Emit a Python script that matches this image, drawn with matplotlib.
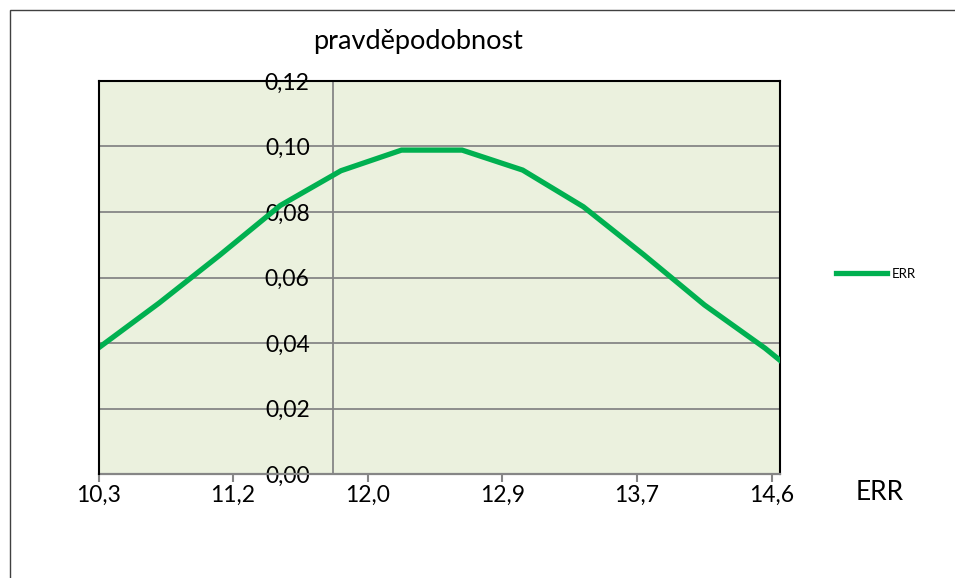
import matplotlib
matplotlib.use("Agg")
import matplotlib.pyplot as plt
from matplotlib.patches import Rectangle
from matplotlib.lines import Line2D

plt.rcParams['font.family'] = ['Lato', 'DejaVu Sans']

# ERR hodnoty a pravdepodobnosti
err = [10.300, 10.687, 11.074, 11.462, 11.849, 12.236, 12.623,
       13.010, 13.398, 13.785, 14.172, 14.559, 14.946]
prob = [0.0385, 0.0522, 0.0668, 0.0820, 0.0926, 0.0989, 0.0989,
        0.0928, 0.0816, 0.0669, 0.0516, 0.0384, 0.0234]

x_ticks = [10.30, 11.16, 12.02, 12.88, 13.74, 14.60]
x_labels = ['10,3', '11,2', '12,0', '12,9', '13,7', '14,6']
y_ticks = [0.00, 0.02, 0.04, 0.06, 0.08, 0.10, 0.12]
y_labels = ['0,00', '0,02', '0,04', '0,06', '0,08', '0,10', '0,12']

W, H = 955, 578
fig = plt.figure(figsize=(W / 100, H / 100), dpi=100)
ax = fig.add_axes([98.5 / W, 104 / H, 681 / W, 393 / H])
ax.set_facecolor('#EBF1DE')

ax.plot(err, prob, color='#00B050', lw=3.8, solid_joinstyle='miter', label='ERR', zorder=3)

ax.set_xlim(10.3, 14.651)
ax.set_ylim(0, 0.12)
ax.set_xticks(x_ticks)
ax.set_xticklabels(x_labels)
ax.set_yticks(y_ticks)
ax.set_yticklabels(y_labels)

ax.grid(axis='y', color='#868686', lw=1.3)
ax.set_axisbelow(True)

# svisla osa protina vodorovnou u 11,8
ax.spines['left'].set_position(('data', 11.8))
ax.spines['left'].set_color('#868686')
ax.spines['left'].set_linewidth(1.3)
ax.spines['bottom'].set_color('#868686')
ax.spines['bottom'].set_linewidth(1.6)
ax.spines['bottom'].set_zorder(4)
for s in ['top', 'right']:
    ax.spines[s].set_color('black')
    ax.spines[s].set_linewidth(1.5)
ax.add_line(Line2D([0, 0], [0, 1], transform=ax.transAxes, color='black',
                   lw=1.5, clip_on=False, zorder=5))

ax.tick_params(axis='x', direction='out', length=6, width=1.5, color='#868686',
               labelsize=16.5, pad=2)
ax.tick_params(axis='y', length=0, labelsize=16.5, pad=17)

ax.legend(loc='center left', bbox_to_anchor=(824 / W, 1 - 274 / H),
          bbox_transform=fig.transFigure, frameon=False, fontsize=9.5,
          handlelength=3.9, handletextpad=0.3)

fig.text(418 / W, 1 - 42 / H, 'pravděpodobnost', ha='center', va='center', fontsize=19.5)
fig.text(880 / W, 1 - 492 / H, 'ERR', ha='center', va='center', fontsize=19)

# ramecek grafu
fig.patches.append(Rectangle((10 / W, -0.1), 1.2, 1 - 10 / H + 0.1,
                             transform=fig.transFigure, fill=False,
                             edgecolor='#404040', lw=1))

fig.savefig('out.png', dpi=100)
